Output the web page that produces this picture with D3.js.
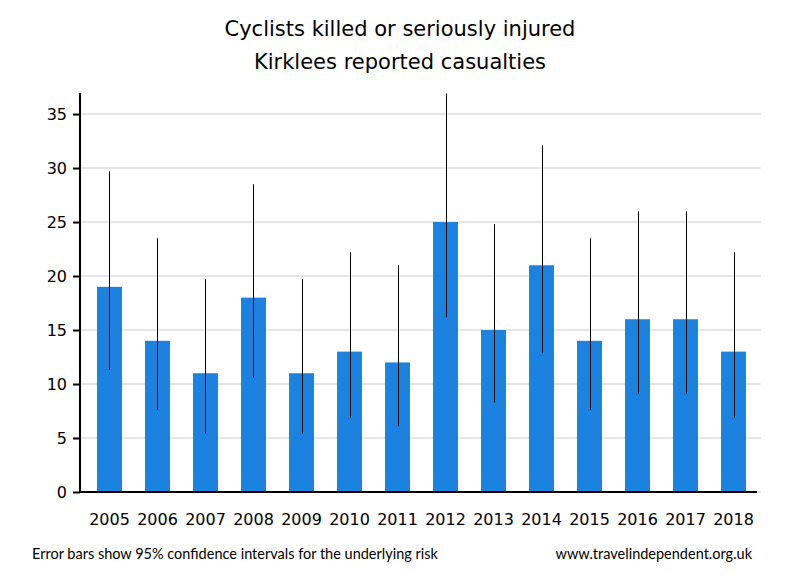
<!DOCTYPE html>
<html><head><meta charset="utf-8">
<script src="https://cdn.jsdelivr.net/npm/d3@7"></script>
<style>body{margin:0;background:#fff}svg{display:block}</style>
</head><body>
<svg id="c" width="800" height="580"></svg>
<script>
const years = ["2005","2006","2007","2008","2009","2010","2011","2012","2013","2014","2015","2016","2017","2018"];
const casualties = [19,14,11,18,11,13,12,25,15,21,14,16,16,13];
const upperCI = [29.7,23.5,19.7,28.5,19.7,22.2,21.0,36.9,24.8,32.1,23.5,26.0,26.0,22.2];
const lowerCI = [11.3,7.6,5.4,10.6,5.4,6.9,6.1,16.2,8.3,12.9,7.6,9.1,9.1,6.9];
const yTicks = [0,5,10,15,20,25,30,35];

const svg = d3.select("#c");
const font = "'DejaVu Sans', Verdana, sans-serif";
const x = d3.scaleBand().domain(years).range([85.5,757.5]).paddingInner(0.48).paddingOuter(0.24);
const y = d3.scaleLinear().domain([0,36.95]).range([492,93]);

// gridlines
svg.append("g").selectAll("line").data(yTicks).join("line")
  .attr("x1",80).attr("x2",761).attr("y1",d=>y(d)).attr("y2",d=>y(d))
  .attr("stroke","#e6e6e6").attr("stroke-width",2);

// bars
svg.append("g").selectAll("rect").data(years).join("rect")
  .attr("x",d=>x(d)).attr("width",x.bandwidth())
  .attr("y",(d,i)=>y(casualties[i])).attr("height",(d,i)=>y(0)-y(casualties[i]))
  .attr("fill","#1c82e0");

// error bars
svg.append("g").selectAll("line").data(years).join("line")
  .attr("x1",d=>Math.round(x(d)+x.bandwidth()/2)+0.5).attr("x2",d=>Math.round(x(d)+x.bandwidth()/2)+0.5)
  .attr("y1",(d,i)=>y(upperCI[i])).attr("y2",(d,i)=>y(lowerCI[i]))
  .attr("stroke","#000").attr("stroke-width",1);

// y axis
const ya = svg.append("g").attr("transform","translate(80,0)")
  .call(d3.axisLeft(y).tickValues(yTicks).tickSize(7).tickPadding(6));
ya.select(".domain").remove();
ya.selectAll(".tick line").attr("stroke","#000").attr("stroke-width",2);
ya.selectAll("text").attr("font-family",font).attr("font-size",16).attr("fill","#000");
svg.append("line").attr("x1",80).attr("x2",80).attr("y1",93).attr("y2",493).attr("stroke","#000").attr("stroke-width",2);
// x axis
const xa = svg.append("g").attr("transform","translate(0,492)")
  .call(d3.axisBottom(x).tickSize(0).tickPadding(22));
xa.select(".domain").remove();
xa.selectAll("text").attr("font-family",font).attr("font-size",16).attr("fill","#000");
svg.append("line").attr("x1",79).attr("x2",757).attr("y1",492).attr("y2",492).attr("stroke","#000").attr("stroke-width",2);

// titles
svg.append("text").attr("x",400).attr("y",36).attr("text-anchor","middle")
  .attr("font-family",font).attr("font-size",21).text("Cyclists killed or seriously injured");
svg.append("text").attr("x",400).attr("y",69).attr("text-anchor","middle")
  .attr("font-family",font).attr("font-size",21).text("Kirklees reported casualties");

// footer
svg.append("text").attr("x",32).attr("y",559).attr("font-family","Lato, sans-serif").attr("font-size",14.5)
  .text("Error bars show 95% confidence intervals for the underlying risk");
svg.append("text").attr("x",752).attr("y",559).attr("text-anchor","end").attr("font-family","Lato, sans-serif").attr("font-size",14.5)
  .text("www.travelindependent.org.uk");
</script>
</body></html>
